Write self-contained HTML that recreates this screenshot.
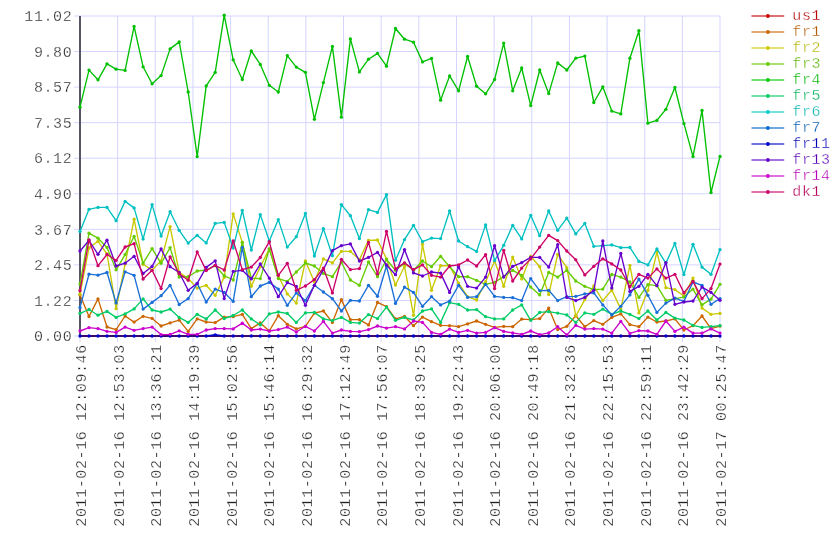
<!DOCTYPE html><html><head><meta charset="utf-8"><style>html,body{margin:0;padding:0;background:#fff;}svg{display:block;}text{font-family:"Liberation Mono",monospace;font-size:15px;letter-spacing:0.6px;stroke:#fff;stroke-width:0.3px;}</style></head><body>
<svg width="840" height="560" viewBox="0 0 840 560">
<rect width="840" height="560" fill="#fff"/>
<path d="M74 336.00H720M74 300.44H720M74 264.89H720M74 229.33H720M74 193.78H720M74 158.22H720M74 122.67H720M74 87.11H720M74 51.56H720M74 16.00H720M80.00 16V342M117.65 16V342M155.29 16V342M192.94 16V342M230.59 16V342M268.24 16V342M305.88 16V342M343.53 16V342M381.18 16V342M418.82 16V342M456.47 16V342M494.12 16V342M531.76 16V342M569.41 16V342M607.06 16V342M644.71 16V342M682.35 16V342M720.00 16V342" stroke="#d4d4ff" stroke-width="1" fill="none"/>
<path d="M80 16V336" stroke="#555566" stroke-width="2" fill="none" shape-rendering="crispEdges"/>
<text x="72.3" y="341.2" text-anchor="end" fill="#222">0.00</text>
<text x="72.3" y="305.6" text-anchor="end" fill="#222">1.22</text>
<text x="72.3" y="270.1" text-anchor="end" fill="#222">2.45</text>
<text x="72.3" y="234.5" text-anchor="end" fill="#222">3.67</text>
<text x="72.3" y="199.0" text-anchor="end" fill="#222">4.90</text>
<text x="72.3" y="163.4" text-anchor="end" fill="#222">6.12</text>
<text x="72.3" y="127.9" text-anchor="end" fill="#222">7.35</text>
<text x="72.3" y="92.3" text-anchor="end" fill="#222">8.57</text>
<text x="72.3" y="56.8" text-anchor="end" fill="#222">9.80</text>
<text x="72.3" y="21.2" text-anchor="end" fill="#222">11.02</text>
<text transform="translate(86.0 344.2) rotate(-90)" text-anchor="end" fill="#222">2011-02-16 12:09:46</text>
<text transform="translate(123.6 344.2) rotate(-90)" text-anchor="end" fill="#222">2011-02-16 12:53:03</text>
<text transform="translate(161.3 344.2) rotate(-90)" text-anchor="end" fill="#222">2011-02-16 13:36:21</text>
<text transform="translate(198.9 344.2) rotate(-90)" text-anchor="end" fill="#222">2011-02-16 14:19:39</text>
<text transform="translate(236.6 344.2) rotate(-90)" text-anchor="end" fill="#222">2011-02-16 15:02:56</text>
<text transform="translate(274.2 344.2) rotate(-90)" text-anchor="end" fill="#222">2011-02-16 15:46:14</text>
<text transform="translate(311.9 344.2) rotate(-90)" text-anchor="end" fill="#222">2011-02-16 16:29:32</text>
<text transform="translate(349.5 344.2) rotate(-90)" text-anchor="end" fill="#222">2011-02-16 17:12:49</text>
<text transform="translate(387.2 344.2) rotate(-90)" text-anchor="end" fill="#222">2011-02-16 17:56:07</text>
<text transform="translate(424.8 344.2) rotate(-90)" text-anchor="end" fill="#222">2011-02-16 18:39:25</text>
<text transform="translate(462.5 344.2) rotate(-90)" text-anchor="end" fill="#222">2011-02-16 19:22:43</text>
<text transform="translate(500.1 344.2) rotate(-90)" text-anchor="end" fill="#222">2011-02-16 20:06:00</text>
<text transform="translate(537.8 344.2) rotate(-90)" text-anchor="end" fill="#222">2011-02-16 20:49:18</text>
<text transform="translate(575.4 344.2) rotate(-90)" text-anchor="end" fill="#222">2011-02-16 21:32:36</text>
<text transform="translate(613.1 344.2) rotate(-90)" text-anchor="end" fill="#222">2011-02-16 22:15:53</text>
<text transform="translate(650.7 344.2) rotate(-90)" text-anchor="end" fill="#222">2011-02-16 22:59:11</text>
<text transform="translate(688.4 344.2) rotate(-90)" text-anchor="end" fill="#222">2011-02-16 23:42:29</text>
<text transform="translate(726.0 344.2) rotate(-90)" text-anchor="end" fill="#222">2011-02-17 00:25:47</text>
<polyline points="80.0,336.0 89.0,336.0 98.0,336.0 107.0,336.0 116.1,336.0 125.1,336.0 134.1,336.0 143.1,336.0 152.1,336.0 161.1,336.0 170.1,336.0 179.2,336.0 188.2,336.0 197.2,336.0 206.2,336.0 215.2,336.0 224.2,336.0 233.2,336.0 242.3,336.0 251.3,336.0 260.3,336.0 269.3,336.0 278.3,336.0 287.3,336.0 296.3,336.0 305.4,336.0 314.4,336.0 323.4,336.0 332.4,336.0 341.4,336.0 350.4,336.0 359.4,336.0 368.5,336.0 377.5,336.0 386.5,336.0 395.5,336.0 404.5,336.0 413.5,336.0 422.5,336.0 431.5,336.0 440.6,336.0 449.6,336.0 458.6,336.0 467.6,336.0 476.6,336.0 485.6,336.0 494.6,336.0 503.7,336.0 512.7,336.0 521.7,336.0 530.7,336.0 539.7,336.0 548.7,336.0 557.7,336.0 566.8,336.0 575.8,336.0 584.8,336.0 593.8,336.0 602.8,336.0 611.8,336.0 620.8,336.0 629.9,336.0 638.9,336.0 647.9,336.0 656.9,336.0 665.9,336.0 674.9,336.0 683.9,336.0 693.0,336.0 702.0,336.0 711.0,336.0 720.0,336.0" fill="none" stroke="#cc0000" stroke-width="1.5"/>
<polyline points="80.0,295.0 89.0,316.5 98.0,298.9 107.0,327.0 116.1,329.6 125.1,316.0 134.1,322.1 143.1,316.3 152.1,318.4 161.1,326.0 170.1,322.9 179.2,320.2 188.2,331.4 197.2,318.9 206.2,322.0 215.2,322.6 224.2,317.1 233.2,316.7 242.3,314.3 251.3,328.6 260.3,322.9 269.3,331.0 278.3,315.7 287.3,324.3 296.3,328.9 305.4,326.3 314.4,313.1 323.4,311.0 332.4,322.4 341.4,299.6 350.4,319.6 359.4,319.6 368.5,324.9 377.5,302.4 386.5,306.7 395.5,318.9 404.5,316.3 413.5,325.7 422.5,317.1 431.5,321.7 440.6,325.3 449.6,325.7 458.6,326.7 467.6,323.9 476.6,321.0 485.6,324.3 494.6,327.4 503.7,326.3 512.7,326.7 521.7,319.1 530.7,319.6 539.7,318.6 548.7,308.1 557.7,329.6 566.8,326.3 575.8,315.7 584.8,326.7 593.8,320.6 602.8,324.3 611.8,317.4 620.8,313.9 629.9,324.6 638.9,326.7 647.9,317.1 656.9,322.0 665.9,321.0 674.9,318.9 683.9,330.0 693.0,325.7 702.0,316.0 711.0,328.6 720.0,326.0" fill="none" stroke="#cc6600" stroke-width="1.35" stroke-linejoin="round"/>
<g fill="#cc6600"><circle cx="80.0" cy="295.0" r="1.65"/><circle cx="89.0" cy="316.5" r="1.65"/><circle cx="98.0" cy="298.9" r="1.65"/><circle cx="107.0" cy="327.0" r="1.65"/><circle cx="116.1" cy="329.6" r="1.65"/><circle cx="125.1" cy="316.0" r="1.65"/><circle cx="134.1" cy="322.1" r="1.65"/><circle cx="143.1" cy="316.3" r="1.65"/><circle cx="152.1" cy="318.4" r="1.65"/><circle cx="161.1" cy="326.0" r="1.65"/><circle cx="170.1" cy="322.9" r="1.65"/><circle cx="179.2" cy="320.2" r="1.65"/><circle cx="188.2" cy="331.4" r="1.65"/><circle cx="197.2" cy="318.9" r="1.65"/><circle cx="206.2" cy="322.0" r="1.65"/><circle cx="215.2" cy="322.6" r="1.65"/><circle cx="224.2" cy="317.1" r="1.65"/><circle cx="233.2" cy="316.7" r="1.65"/><circle cx="242.3" cy="314.3" r="1.65"/><circle cx="251.3" cy="328.6" r="1.65"/><circle cx="260.3" cy="322.9" r="1.65"/><circle cx="269.3" cy="331.0" r="1.65"/><circle cx="278.3" cy="315.7" r="1.65"/><circle cx="287.3" cy="324.3" r="1.65"/><circle cx="296.3" cy="328.9" r="1.65"/><circle cx="305.4" cy="326.3" r="1.65"/><circle cx="314.4" cy="313.1" r="1.65"/><circle cx="323.4" cy="311.0" r="1.65"/><circle cx="332.4" cy="322.4" r="1.65"/><circle cx="341.4" cy="299.6" r="1.65"/><circle cx="350.4" cy="319.6" r="1.65"/><circle cx="359.4" cy="319.6" r="1.65"/><circle cx="368.5" cy="324.9" r="1.65"/><circle cx="377.5" cy="302.4" r="1.65"/><circle cx="386.5" cy="306.7" r="1.65"/><circle cx="395.5" cy="318.9" r="1.65"/><circle cx="404.5" cy="316.3" r="1.65"/><circle cx="413.5" cy="325.7" r="1.65"/><circle cx="422.5" cy="317.1" r="1.65"/><circle cx="431.5" cy="321.7" r="1.65"/><circle cx="440.6" cy="325.3" r="1.65"/><circle cx="449.6" cy="325.7" r="1.65"/><circle cx="458.6" cy="326.7" r="1.65"/><circle cx="467.6" cy="323.9" r="1.65"/><circle cx="476.6" cy="321.0" r="1.65"/><circle cx="485.6" cy="324.3" r="1.65"/><circle cx="494.6" cy="327.4" r="1.65"/><circle cx="503.7" cy="326.3" r="1.65"/><circle cx="512.7" cy="326.7" r="1.65"/><circle cx="521.7" cy="319.1" r="1.65"/><circle cx="530.7" cy="319.6" r="1.65"/><circle cx="539.7" cy="318.6" r="1.65"/><circle cx="548.7" cy="308.1" r="1.65"/><circle cx="557.7" cy="329.6" r="1.65"/><circle cx="566.8" cy="326.3" r="1.65"/><circle cx="575.8" cy="315.7" r="1.65"/><circle cx="584.8" cy="326.7" r="1.65"/><circle cx="593.8" cy="320.6" r="1.65"/><circle cx="602.8" cy="324.3" r="1.65"/><circle cx="611.8" cy="317.4" r="1.65"/><circle cx="620.8" cy="313.9" r="1.65"/><circle cx="629.9" cy="324.6" r="1.65"/><circle cx="638.9" cy="326.7" r="1.65"/><circle cx="647.9" cy="317.1" r="1.65"/><circle cx="656.9" cy="322.0" r="1.65"/><circle cx="665.9" cy="321.0" r="1.65"/><circle cx="674.9" cy="318.9" r="1.65"/><circle cx="683.9" cy="330.0" r="1.65"/><circle cx="693.0" cy="325.7" r="1.65"/><circle cx="702.0" cy="316.0" r="1.65"/><circle cx="711.0" cy="328.6" r="1.65"/><circle cx="720.0" cy="326.0" r="1.65"/></g>
<polyline points="80.0,294.2 89.0,247.9 98.0,241.3 107.0,254.0 116.1,308.7 125.1,264.0 134.1,219.2 143.1,264.3 152.1,270.1 161.1,260.8 170.1,226.6 179.2,272.4 188.2,278.5 197.2,288.1 206.2,285.3 215.2,295.3 224.2,277.4 233.2,213.9 242.3,242.4 251.3,286.3 260.3,266.7 269.3,249.0 278.3,276.0 287.3,293.9 296.3,303.1 305.4,261.0 314.4,282.0 323.4,258.9 332.4,262.9 341.4,251.4 350.4,251.4 359.4,259.6 368.5,240.3 377.5,240.0 386.5,258.9 395.5,285.0 404.5,266.3 413.5,315.3 422.5,244.3 431.5,290.3 440.6,265.7 449.6,265.7 458.6,283.1 467.6,296.7 476.6,300.0 485.6,281.7 494.6,261.0 503.7,286.3 512.7,257.1 521.7,278.9 530.7,256.3 539.7,266.7 548.7,294.6 557.7,254.3 566.8,267.7 575.8,316.0 584.8,299.6 593.8,286.0 602.8,300.6 611.8,290.0 620.8,309.1 629.9,265.3 638.9,312.9 647.9,290.3 656.9,252.0 665.9,287.7 674.9,289.6 683.9,296.0 693.0,278.1 702.0,308.1 711.0,314.3 720.0,313.4" fill="none" stroke="#c8c800" stroke-width="1.35" stroke-linejoin="round"/>
<g fill="#c8c800"><circle cx="80.0" cy="294.2" r="1.65"/><circle cx="89.0" cy="247.9" r="1.65"/><circle cx="98.0" cy="241.3" r="1.65"/><circle cx="107.0" cy="254.0" r="1.65"/><circle cx="116.1" cy="308.7" r="1.65"/><circle cx="125.1" cy="264.0" r="1.65"/><circle cx="134.1" cy="219.2" r="1.65"/><circle cx="143.1" cy="264.3" r="1.65"/><circle cx="152.1" cy="270.1" r="1.65"/><circle cx="161.1" cy="260.8" r="1.65"/><circle cx="170.1" cy="226.6" r="1.65"/><circle cx="179.2" cy="272.4" r="1.65"/><circle cx="188.2" cy="278.5" r="1.65"/><circle cx="197.2" cy="288.1" r="1.65"/><circle cx="206.2" cy="285.3" r="1.65"/><circle cx="215.2" cy="295.3" r="1.65"/><circle cx="224.2" cy="277.4" r="1.65"/><circle cx="233.2" cy="213.9" r="1.65"/><circle cx="242.3" cy="242.4" r="1.65"/><circle cx="251.3" cy="286.3" r="1.65"/><circle cx="260.3" cy="266.7" r="1.65"/><circle cx="269.3" cy="249.0" r="1.65"/><circle cx="278.3" cy="276.0" r="1.65"/><circle cx="287.3" cy="293.9" r="1.65"/><circle cx="296.3" cy="303.1" r="1.65"/><circle cx="305.4" cy="261.0" r="1.65"/><circle cx="314.4" cy="282.0" r="1.65"/><circle cx="323.4" cy="258.9" r="1.65"/><circle cx="332.4" cy="262.9" r="1.65"/><circle cx="341.4" cy="251.4" r="1.65"/><circle cx="350.4" cy="251.4" r="1.65"/><circle cx="359.4" cy="259.6" r="1.65"/><circle cx="368.5" cy="240.3" r="1.65"/><circle cx="377.5" cy="240.0" r="1.65"/><circle cx="386.5" cy="258.9" r="1.65"/><circle cx="395.5" cy="285.0" r="1.65"/><circle cx="404.5" cy="266.3" r="1.65"/><circle cx="413.5" cy="315.3" r="1.65"/><circle cx="422.5" cy="244.3" r="1.65"/><circle cx="431.5" cy="290.3" r="1.65"/><circle cx="440.6" cy="265.7" r="1.65"/><circle cx="449.6" cy="265.7" r="1.65"/><circle cx="458.6" cy="283.1" r="1.65"/><circle cx="467.6" cy="296.7" r="1.65"/><circle cx="476.6" cy="300.0" r="1.65"/><circle cx="485.6" cy="281.7" r="1.65"/><circle cx="494.6" cy="261.0" r="1.65"/><circle cx="503.7" cy="286.3" r="1.65"/><circle cx="512.7" cy="257.1" r="1.65"/><circle cx="521.7" cy="278.9" r="1.65"/><circle cx="530.7" cy="256.3" r="1.65"/><circle cx="539.7" cy="266.7" r="1.65"/><circle cx="548.7" cy="294.6" r="1.65"/><circle cx="557.7" cy="254.3" r="1.65"/><circle cx="566.8" cy="267.7" r="1.65"/><circle cx="575.8" cy="316.0" r="1.65"/><circle cx="584.8" cy="299.6" r="1.65"/><circle cx="593.8" cy="286.0" r="1.65"/><circle cx="602.8" cy="300.6" r="1.65"/><circle cx="611.8" cy="290.0" r="1.65"/><circle cx="620.8" cy="309.1" r="1.65"/><circle cx="629.9" cy="265.3" r="1.65"/><circle cx="638.9" cy="312.9" r="1.65"/><circle cx="647.9" cy="290.3" r="1.65"/><circle cx="656.9" cy="252.0" r="1.65"/><circle cx="665.9" cy="287.7" r="1.65"/><circle cx="674.9" cy="289.6" r="1.65"/><circle cx="683.9" cy="296.0" r="1.65"/><circle cx="693.0" cy="278.1" r="1.65"/><circle cx="702.0" cy="308.1" r="1.65"/><circle cx="711.0" cy="314.3" r="1.65"/><circle cx="720.0" cy="313.4" r="1.65"/></g>
<polyline points="80.0,284.0 89.0,233.2 98.0,238.2 107.0,247.5 116.1,269.8 125.1,254.6 134.1,236.3 143.1,263.1 152.1,248.6 161.1,263.3 170.1,247.6 179.2,277.0 188.2,276.7 197.2,271.0 206.2,270.0 215.2,265.7 224.2,275.7 233.2,280.0 242.3,242.4 251.3,278.1 260.3,278.6 269.3,248.9 278.3,278.6 287.3,281.4 296.3,272.0 305.4,263.0 314.4,266.0 323.4,273.4 332.4,276.7 341.4,262.2 350.4,280.0 359.4,285.3 368.5,262.0 377.5,276.7 386.5,259.5 395.5,270.3 404.5,263.1 413.5,270.3 422.5,261.0 431.5,266.7 440.6,256.3 449.6,266.7 458.6,276.7 467.6,276.7 476.6,280.3 485.6,284.3 494.6,282.4 503.7,276.5 512.7,270.3 521.7,275.3 530.7,287.1 539.7,294.9 548.7,272.4 557.7,277.1 566.8,270.3 575.8,281.0 584.8,286.3 593.8,289.6 602.8,289.1 611.8,274.4 620.8,277.1 629.9,282.0 638.9,297.4 647.9,284.6 656.9,285.7 665.9,300.3 674.9,298.6 683.9,297.1 693.0,289.1 702.0,304.9 711.0,299.1 720.0,284.3" fill="none" stroke="#66cc00" stroke-width="1.35" stroke-linejoin="round"/>
<g fill="#66cc00"><circle cx="80.0" cy="284.0" r="1.65"/><circle cx="89.0" cy="233.2" r="1.65"/><circle cx="98.0" cy="238.2" r="1.65"/><circle cx="107.0" cy="247.5" r="1.65"/><circle cx="116.1" cy="269.8" r="1.65"/><circle cx="125.1" cy="254.6" r="1.65"/><circle cx="134.1" cy="236.3" r="1.65"/><circle cx="143.1" cy="263.1" r="1.65"/><circle cx="152.1" cy="248.6" r="1.65"/><circle cx="161.1" cy="263.3" r="1.65"/><circle cx="170.1" cy="247.6" r="1.65"/><circle cx="179.2" cy="277.0" r="1.65"/><circle cx="188.2" cy="276.7" r="1.65"/><circle cx="197.2" cy="271.0" r="1.65"/><circle cx="206.2" cy="270.0" r="1.65"/><circle cx="215.2" cy="265.7" r="1.65"/><circle cx="224.2" cy="275.7" r="1.65"/><circle cx="233.2" cy="280.0" r="1.65"/><circle cx="242.3" cy="242.4" r="1.65"/><circle cx="251.3" cy="278.1" r="1.65"/><circle cx="260.3" cy="278.6" r="1.65"/><circle cx="269.3" cy="248.9" r="1.65"/><circle cx="278.3" cy="278.6" r="1.65"/><circle cx="287.3" cy="281.4" r="1.65"/><circle cx="296.3" cy="272.0" r="1.65"/><circle cx="305.4" cy="263.0" r="1.65"/><circle cx="314.4" cy="266.0" r="1.65"/><circle cx="323.4" cy="273.4" r="1.65"/><circle cx="332.4" cy="276.7" r="1.65"/><circle cx="341.4" cy="262.2" r="1.65"/><circle cx="350.4" cy="280.0" r="1.65"/><circle cx="359.4" cy="285.3" r="1.65"/><circle cx="368.5" cy="262.0" r="1.65"/><circle cx="377.5" cy="276.7" r="1.65"/><circle cx="386.5" cy="259.5" r="1.65"/><circle cx="395.5" cy="270.3" r="1.65"/><circle cx="404.5" cy="263.1" r="1.65"/><circle cx="413.5" cy="270.3" r="1.65"/><circle cx="422.5" cy="261.0" r="1.65"/><circle cx="431.5" cy="266.7" r="1.65"/><circle cx="440.6" cy="256.3" r="1.65"/><circle cx="449.6" cy="266.7" r="1.65"/><circle cx="458.6" cy="276.7" r="1.65"/><circle cx="467.6" cy="276.7" r="1.65"/><circle cx="476.6" cy="280.3" r="1.65"/><circle cx="485.6" cy="284.3" r="1.65"/><circle cx="494.6" cy="282.4" r="1.65"/><circle cx="503.7" cy="276.5" r="1.65"/><circle cx="512.7" cy="270.3" r="1.65"/><circle cx="521.7" cy="275.3" r="1.65"/><circle cx="530.7" cy="287.1" r="1.65"/><circle cx="539.7" cy="294.9" r="1.65"/><circle cx="548.7" cy="272.4" r="1.65"/><circle cx="557.7" cy="277.1" r="1.65"/><circle cx="566.8" cy="270.3" r="1.65"/><circle cx="575.8" cy="281.0" r="1.65"/><circle cx="584.8" cy="286.3" r="1.65"/><circle cx="593.8" cy="289.6" r="1.65"/><circle cx="602.8" cy="289.1" r="1.65"/><circle cx="611.8" cy="274.4" r="1.65"/><circle cx="620.8" cy="277.1" r="1.65"/><circle cx="629.9" cy="282.0" r="1.65"/><circle cx="638.9" cy="297.4" r="1.65"/><circle cx="647.9" cy="284.6" r="1.65"/><circle cx="656.9" cy="285.7" r="1.65"/><circle cx="665.9" cy="300.3" r="1.65"/><circle cx="674.9" cy="298.6" r="1.65"/><circle cx="683.9" cy="297.1" r="1.65"/><circle cx="693.0" cy="289.1" r="1.65"/><circle cx="702.0" cy="304.9" r="1.65"/><circle cx="711.0" cy="299.1" r="1.65"/><circle cx="720.0" cy="284.3" r="1.65"/></g>
<polyline points="80.0,107.2 89.0,70.1 98.0,79.8 107.0,63.8 116.1,69.2 125.1,70.4 134.1,26.4 143.1,66.8 152.1,83.8 161.1,75.6 170.1,48.9 179.2,41.9 188.2,92.0 197.2,156.6 206.2,85.9 215.2,72.3 224.2,15.2 233.2,59.8 242.3,79.5 251.3,51.0 260.3,64.4 269.3,85.3 278.3,92.0 287.3,55.6 296.3,67.1 305.4,72.3 314.4,119.3 323.4,82.6 332.4,46.4 341.4,117.2 350.4,38.9 359.4,71.9 368.5,59.2 377.5,53.4 386.5,66.2 395.5,28.5 404.5,39.2 413.5,42.2 422.5,61.9 431.5,58.3 440.6,100.2 449.6,75.9 458.6,90.8 467.6,56.5 476.6,86.2 485.6,93.8 494.6,79.5 503.7,43.1 512.7,90.8 521.7,68.0 530.7,105.6 539.7,70.0 548.7,93.6 557.7,62.9 566.8,70.0 575.8,58.2 584.8,56.1 593.8,102.5 602.8,86.8 611.8,111.1 620.8,113.9 629.9,58.2 638.9,30.7 647.9,123.2 656.9,120.4 665.9,109.3 674.9,87.5 683.9,123.4 693.0,156.6 702.0,110.4 711.0,192.5 720.0,156.4" fill="none" stroke="#00c000" stroke-width="1.35" stroke-linejoin="round"/>
<g fill="#00c000"><circle cx="80.0" cy="107.2" r="1.65"/><circle cx="89.0" cy="70.1" r="1.65"/><circle cx="98.0" cy="79.8" r="1.65"/><circle cx="107.0" cy="63.8" r="1.65"/><circle cx="116.1" cy="69.2" r="1.65"/><circle cx="125.1" cy="70.4" r="1.65"/><circle cx="134.1" cy="26.4" r="1.65"/><circle cx="143.1" cy="66.8" r="1.65"/><circle cx="152.1" cy="83.8" r="1.65"/><circle cx="161.1" cy="75.6" r="1.65"/><circle cx="170.1" cy="48.9" r="1.65"/><circle cx="179.2" cy="41.9" r="1.65"/><circle cx="188.2" cy="92.0" r="1.65"/><circle cx="197.2" cy="156.6" r="1.65"/><circle cx="206.2" cy="85.9" r="1.65"/><circle cx="215.2" cy="72.3" r="1.65"/><circle cx="224.2" cy="15.2" r="1.65"/><circle cx="233.2" cy="59.8" r="1.65"/><circle cx="242.3" cy="79.5" r="1.65"/><circle cx="251.3" cy="51.0" r="1.65"/><circle cx="260.3" cy="64.4" r="1.65"/><circle cx="269.3" cy="85.3" r="1.65"/><circle cx="278.3" cy="92.0" r="1.65"/><circle cx="287.3" cy="55.6" r="1.65"/><circle cx="296.3" cy="67.1" r="1.65"/><circle cx="305.4" cy="72.3" r="1.65"/><circle cx="314.4" cy="119.3" r="1.65"/><circle cx="323.4" cy="82.6" r="1.65"/><circle cx="332.4" cy="46.4" r="1.65"/><circle cx="341.4" cy="117.2" r="1.65"/><circle cx="350.4" cy="38.9" r="1.65"/><circle cx="359.4" cy="71.9" r="1.65"/><circle cx="368.5" cy="59.2" r="1.65"/><circle cx="377.5" cy="53.4" r="1.65"/><circle cx="386.5" cy="66.2" r="1.65"/><circle cx="395.5" cy="28.5" r="1.65"/><circle cx="404.5" cy="39.2" r="1.65"/><circle cx="413.5" cy="42.2" r="1.65"/><circle cx="422.5" cy="61.9" r="1.65"/><circle cx="431.5" cy="58.3" r="1.65"/><circle cx="440.6" cy="100.2" r="1.65"/><circle cx="449.6" cy="75.9" r="1.65"/><circle cx="458.6" cy="90.8" r="1.65"/><circle cx="467.6" cy="56.5" r="1.65"/><circle cx="476.6" cy="86.2" r="1.65"/><circle cx="485.6" cy="93.8" r="1.65"/><circle cx="494.6" cy="79.5" r="1.65"/><circle cx="503.7" cy="43.1" r="1.65"/><circle cx="512.7" cy="90.8" r="1.65"/><circle cx="521.7" cy="68.0" r="1.65"/><circle cx="530.7" cy="105.6" r="1.65"/><circle cx="539.7" cy="70.0" r="1.65"/><circle cx="548.7" cy="93.6" r="1.65"/><circle cx="557.7" cy="62.9" r="1.65"/><circle cx="566.8" cy="70.0" r="1.65"/><circle cx="575.8" cy="58.2" r="1.65"/><circle cx="584.8" cy="56.1" r="1.65"/><circle cx="593.8" cy="102.5" r="1.65"/><circle cx="602.8" cy="86.8" r="1.65"/><circle cx="611.8" cy="111.1" r="1.65"/><circle cx="620.8" cy="113.9" r="1.65"/><circle cx="629.9" cy="58.2" r="1.65"/><circle cx="638.9" cy="30.7" r="1.65"/><circle cx="647.9" cy="123.2" r="1.65"/><circle cx="656.9" cy="120.4" r="1.65"/><circle cx="665.9" cy="109.3" r="1.65"/><circle cx="674.9" cy="87.5" r="1.65"/><circle cx="683.9" cy="123.4" r="1.65"/><circle cx="693.0" cy="156.6" r="1.65"/><circle cx="702.0" cy="110.4" r="1.65"/><circle cx="711.0" cy="192.5" r="1.65"/><circle cx="720.0" cy="156.4" r="1.65"/></g>
<polyline points="80.0,313.4 89.0,309.5 98.0,315.2 107.0,311.4 116.1,317.4 125.1,313.9 134.1,308.9 143.1,298.9 152.1,310.0 161.1,312.0 170.1,309.1 179.2,317.4 188.2,322.4 197.2,314.3 206.2,318.9 215.2,310.0 224.2,318.6 233.2,315.5 242.3,310.0 251.3,318.9 260.3,324.9 269.3,313.9 278.3,312.0 287.3,313.4 296.3,322.4 305.4,312.9 314.4,312.4 323.4,318.9 332.4,320.6 341.4,317.4 350.4,322.4 359.4,323.1 368.5,314.6 377.5,318.6 386.5,307.1 395.5,320.3 404.5,317.4 413.5,320.0 422.5,311.0 431.5,308.9 440.6,322.4 449.6,302.7 458.6,304.3 467.6,310.0 476.6,309.6 485.6,316.7 494.6,318.9 503.7,318.9 512.7,310.0 521.7,304.9 530.7,320.3 539.7,312.4 548.7,311.7 557.7,313.1 566.8,314.9 575.8,322.4 584.8,312.9 593.8,314.3 602.8,309.1 611.8,314.3 620.8,311.0 629.9,314.3 638.9,318.6 647.9,311.0 656.9,320.0 665.9,312.4 674.9,318.1 683.9,320.0 693.0,325.3 702.0,327.4 711.0,326.7 720.0,325.7" fill="none" stroke="#00cc66" stroke-width="1.35" stroke-linejoin="round"/>
<g fill="#00cc66"><circle cx="80.0" cy="313.4" r="1.65"/><circle cx="89.0" cy="309.5" r="1.65"/><circle cx="98.0" cy="315.2" r="1.65"/><circle cx="107.0" cy="311.4" r="1.65"/><circle cx="116.1" cy="317.4" r="1.65"/><circle cx="125.1" cy="313.9" r="1.65"/><circle cx="134.1" cy="308.9" r="1.65"/><circle cx="143.1" cy="298.9" r="1.65"/><circle cx="152.1" cy="310.0" r="1.65"/><circle cx="161.1" cy="312.0" r="1.65"/><circle cx="170.1" cy="309.1" r="1.65"/><circle cx="179.2" cy="317.4" r="1.65"/><circle cx="188.2" cy="322.4" r="1.65"/><circle cx="197.2" cy="314.3" r="1.65"/><circle cx="206.2" cy="318.9" r="1.65"/><circle cx="215.2" cy="310.0" r="1.65"/><circle cx="224.2" cy="318.6" r="1.65"/><circle cx="233.2" cy="315.5" r="1.65"/><circle cx="242.3" cy="310.0" r="1.65"/><circle cx="251.3" cy="318.9" r="1.65"/><circle cx="260.3" cy="324.9" r="1.65"/><circle cx="269.3" cy="313.9" r="1.65"/><circle cx="278.3" cy="312.0" r="1.65"/><circle cx="287.3" cy="313.4" r="1.65"/><circle cx="296.3" cy="322.4" r="1.65"/><circle cx="305.4" cy="312.9" r="1.65"/><circle cx="314.4" cy="312.4" r="1.65"/><circle cx="323.4" cy="318.9" r="1.65"/><circle cx="332.4" cy="320.6" r="1.65"/><circle cx="341.4" cy="317.4" r="1.65"/><circle cx="350.4" cy="322.4" r="1.65"/><circle cx="359.4" cy="323.1" r="1.65"/><circle cx="368.5" cy="314.6" r="1.65"/><circle cx="377.5" cy="318.6" r="1.65"/><circle cx="386.5" cy="307.1" r="1.65"/><circle cx="395.5" cy="320.3" r="1.65"/><circle cx="404.5" cy="317.4" r="1.65"/><circle cx="413.5" cy="320.0" r="1.65"/><circle cx="422.5" cy="311.0" r="1.65"/><circle cx="431.5" cy="308.9" r="1.65"/><circle cx="440.6" cy="322.4" r="1.65"/><circle cx="449.6" cy="302.7" r="1.65"/><circle cx="458.6" cy="304.3" r="1.65"/><circle cx="467.6" cy="310.0" r="1.65"/><circle cx="476.6" cy="309.6" r="1.65"/><circle cx="485.6" cy="316.7" r="1.65"/><circle cx="494.6" cy="318.9" r="1.65"/><circle cx="503.7" cy="318.9" r="1.65"/><circle cx="512.7" cy="310.0" r="1.65"/><circle cx="521.7" cy="304.9" r="1.65"/><circle cx="530.7" cy="320.3" r="1.65"/><circle cx="539.7" cy="312.4" r="1.65"/><circle cx="548.7" cy="311.7" r="1.65"/><circle cx="557.7" cy="313.1" r="1.65"/><circle cx="566.8" cy="314.9" r="1.65"/><circle cx="575.8" cy="322.4" r="1.65"/><circle cx="584.8" cy="312.9" r="1.65"/><circle cx="593.8" cy="314.3" r="1.65"/><circle cx="602.8" cy="309.1" r="1.65"/><circle cx="611.8" cy="314.3" r="1.65"/><circle cx="620.8" cy="311.0" r="1.65"/><circle cx="629.9" cy="314.3" r="1.65"/><circle cx="638.9" cy="318.6" r="1.65"/><circle cx="647.9" cy="311.0" r="1.65"/><circle cx="656.9" cy="320.0" r="1.65"/><circle cx="665.9" cy="312.4" r="1.65"/><circle cx="674.9" cy="318.1" r="1.65"/><circle cx="683.9" cy="320.0" r="1.65"/><circle cx="693.0" cy="325.3" r="1.65"/><circle cx="702.0" cy="327.4" r="1.65"/><circle cx="711.0" cy="326.7" r="1.65"/><circle cx="720.0" cy="325.7" r="1.65"/></g>
<polyline points="80.0,231.4 89.0,209.3 98.0,207.4 107.0,207.4 116.1,220.7 125.1,201.4 134.1,207.9 143.1,239.1 152.1,204.6 161.1,236.0 170.1,211.7 179.2,230.3 188.2,243.1 197.2,235.3 206.2,242.9 215.2,223.4 224.2,222.4 233.2,248.1 242.3,210.3 251.3,250.0 260.3,214.6 269.3,241.0 278.3,219.6 287.3,247.1 296.3,236.7 305.4,213.4 314.4,256.0 323.4,228.6 332.4,255.7 341.4,204.6 350.4,215.7 359.4,238.6 368.5,209.6 377.5,212.4 386.5,194.6 395.5,260.3 404.5,239.6 413.5,225.3 422.5,241.7 431.5,238.1 440.6,238.6 449.6,211.0 458.6,241.0 467.6,246.7 476.6,251.4 485.6,224.9 494.6,260.6 503.7,245.3 512.7,225.3 521.7,238.9 530.7,215.3 539.7,235.7 548.7,211.0 557.7,230.3 566.8,218.1 575.8,233.9 584.8,223.4 593.8,246.3 602.8,245.7 611.8,244.9 620.8,247.7 629.9,247.4 638.9,261.4 647.9,264.9 656.9,248.9 665.9,263.1 674.9,243.4 683.9,274.6 693.0,244.3 702.0,267.1 711.0,274.3 720.0,249.6" fill="none" stroke="#00c0c0" stroke-width="1.35" stroke-linejoin="round"/>
<g fill="#00c0c0"><circle cx="80.0" cy="231.4" r="1.65"/><circle cx="89.0" cy="209.3" r="1.65"/><circle cx="98.0" cy="207.4" r="1.65"/><circle cx="107.0" cy="207.4" r="1.65"/><circle cx="116.1" cy="220.7" r="1.65"/><circle cx="125.1" cy="201.4" r="1.65"/><circle cx="134.1" cy="207.9" r="1.65"/><circle cx="143.1" cy="239.1" r="1.65"/><circle cx="152.1" cy="204.6" r="1.65"/><circle cx="161.1" cy="236.0" r="1.65"/><circle cx="170.1" cy="211.7" r="1.65"/><circle cx="179.2" cy="230.3" r="1.65"/><circle cx="188.2" cy="243.1" r="1.65"/><circle cx="197.2" cy="235.3" r="1.65"/><circle cx="206.2" cy="242.9" r="1.65"/><circle cx="215.2" cy="223.4" r="1.65"/><circle cx="224.2" cy="222.4" r="1.65"/><circle cx="233.2" cy="248.1" r="1.65"/><circle cx="242.3" cy="210.3" r="1.65"/><circle cx="251.3" cy="250.0" r="1.65"/><circle cx="260.3" cy="214.6" r="1.65"/><circle cx="269.3" cy="241.0" r="1.65"/><circle cx="278.3" cy="219.6" r="1.65"/><circle cx="287.3" cy="247.1" r="1.65"/><circle cx="296.3" cy="236.7" r="1.65"/><circle cx="305.4" cy="213.4" r="1.65"/><circle cx="314.4" cy="256.0" r="1.65"/><circle cx="323.4" cy="228.6" r="1.65"/><circle cx="332.4" cy="255.7" r="1.65"/><circle cx="341.4" cy="204.6" r="1.65"/><circle cx="350.4" cy="215.7" r="1.65"/><circle cx="359.4" cy="238.6" r="1.65"/><circle cx="368.5" cy="209.6" r="1.65"/><circle cx="377.5" cy="212.4" r="1.65"/><circle cx="386.5" cy="194.6" r="1.65"/><circle cx="395.5" cy="260.3" r="1.65"/><circle cx="404.5" cy="239.6" r="1.65"/><circle cx="413.5" cy="225.3" r="1.65"/><circle cx="422.5" cy="241.7" r="1.65"/><circle cx="431.5" cy="238.1" r="1.65"/><circle cx="440.6" cy="238.6" r="1.65"/><circle cx="449.6" cy="211.0" r="1.65"/><circle cx="458.6" cy="241.0" r="1.65"/><circle cx="467.6" cy="246.7" r="1.65"/><circle cx="476.6" cy="251.4" r="1.65"/><circle cx="485.6" cy="224.9" r="1.65"/><circle cx="494.6" cy="260.6" r="1.65"/><circle cx="503.7" cy="245.3" r="1.65"/><circle cx="512.7" cy="225.3" r="1.65"/><circle cx="521.7" cy="238.9" r="1.65"/><circle cx="530.7" cy="215.3" r="1.65"/><circle cx="539.7" cy="235.7" r="1.65"/><circle cx="548.7" cy="211.0" r="1.65"/><circle cx="557.7" cy="230.3" r="1.65"/><circle cx="566.8" cy="218.1" r="1.65"/><circle cx="575.8" cy="233.9" r="1.65"/><circle cx="584.8" cy="223.4" r="1.65"/><circle cx="593.8" cy="246.3" r="1.65"/><circle cx="602.8" cy="245.7" r="1.65"/><circle cx="611.8" cy="244.9" r="1.65"/><circle cx="620.8" cy="247.7" r="1.65"/><circle cx="629.9" cy="247.4" r="1.65"/><circle cx="638.9" cy="261.4" r="1.65"/><circle cx="647.9" cy="264.9" r="1.65"/><circle cx="656.9" cy="248.9" r="1.65"/><circle cx="665.9" cy="263.1" r="1.65"/><circle cx="674.9" cy="243.4" r="1.65"/><circle cx="683.9" cy="274.6" r="1.65"/><circle cx="693.0" cy="244.3" r="1.65"/><circle cx="702.0" cy="267.1" r="1.65"/><circle cx="711.0" cy="274.3" r="1.65"/><circle cx="720.0" cy="249.6" r="1.65"/></g>
<polyline points="80.0,307.6 89.0,274.2 98.0,275.2 107.0,272.5 116.1,302.9 125.1,271.8 134.1,275.3 143.1,309.1 152.1,302.4 161.1,295.7 170.1,285.3 179.2,304.5 188.2,298.6 197.2,283.4 206.2,302.0 215.2,289.1 224.2,292.4 233.2,301.4 242.3,247.4 251.3,296.7 260.3,286.0 269.3,282.4 278.3,289.1 287.3,305.3 296.3,292.9 305.4,300.6 314.4,285.3 323.4,292.0 332.4,298.6 341.4,311.0 350.4,300.3 359.4,301.0 368.5,285.3 377.5,296.3 386.5,266.0 395.5,303.4 404.5,287.1 413.5,292.4 422.5,306.3 431.5,296.7 440.6,304.9 449.6,301.2 458.6,285.3 467.6,297.4 476.6,296.7 485.6,284.3 494.6,296.3 503.7,297.4 512.7,297.7 521.7,300.6 530.7,278.6 539.7,290.6 548.7,290.3 557.7,300.6 566.8,296.7 575.8,296.3 584.8,293.9 593.8,292.9 602.8,304.9 611.8,314.9 620.8,306.3 629.9,294.9 638.9,279.1 647.9,295.3 656.9,312.4 665.9,303.1 674.9,298.1 683.9,301.4 693.0,282.0 702.0,285.3 711.0,304.3 720.0,298.6" fill="none" stroke="#1a6fd6" stroke-width="1.35" stroke-linejoin="round"/>
<g fill="#1a6fd6"><circle cx="80.0" cy="307.6" r="1.65"/><circle cx="89.0" cy="274.2" r="1.65"/><circle cx="98.0" cy="275.2" r="1.65"/><circle cx="107.0" cy="272.5" r="1.65"/><circle cx="116.1" cy="302.9" r="1.65"/><circle cx="125.1" cy="271.8" r="1.65"/><circle cx="134.1" cy="275.3" r="1.65"/><circle cx="143.1" cy="309.1" r="1.65"/><circle cx="152.1" cy="302.4" r="1.65"/><circle cx="161.1" cy="295.7" r="1.65"/><circle cx="170.1" cy="285.3" r="1.65"/><circle cx="179.2" cy="304.5" r="1.65"/><circle cx="188.2" cy="298.6" r="1.65"/><circle cx="197.2" cy="283.4" r="1.65"/><circle cx="206.2" cy="302.0" r="1.65"/><circle cx="215.2" cy="289.1" r="1.65"/><circle cx="224.2" cy="292.4" r="1.65"/><circle cx="233.2" cy="301.4" r="1.65"/><circle cx="242.3" cy="247.4" r="1.65"/><circle cx="251.3" cy="296.7" r="1.65"/><circle cx="260.3" cy="286.0" r="1.65"/><circle cx="269.3" cy="282.4" r="1.65"/><circle cx="278.3" cy="289.1" r="1.65"/><circle cx="287.3" cy="305.3" r="1.65"/><circle cx="296.3" cy="292.9" r="1.65"/><circle cx="305.4" cy="300.6" r="1.65"/><circle cx="314.4" cy="285.3" r="1.65"/><circle cx="323.4" cy="292.0" r="1.65"/><circle cx="332.4" cy="298.6" r="1.65"/><circle cx="341.4" cy="311.0" r="1.65"/><circle cx="350.4" cy="300.3" r="1.65"/><circle cx="359.4" cy="301.0" r="1.65"/><circle cx="368.5" cy="285.3" r="1.65"/><circle cx="377.5" cy="296.3" r="1.65"/><circle cx="386.5" cy="266.0" r="1.65"/><circle cx="395.5" cy="303.4" r="1.65"/><circle cx="404.5" cy="287.1" r="1.65"/><circle cx="413.5" cy="292.4" r="1.65"/><circle cx="422.5" cy="306.3" r="1.65"/><circle cx="431.5" cy="296.7" r="1.65"/><circle cx="440.6" cy="304.9" r="1.65"/><circle cx="449.6" cy="301.2" r="1.65"/><circle cx="458.6" cy="285.3" r="1.65"/><circle cx="467.6" cy="297.4" r="1.65"/><circle cx="476.6" cy="296.7" r="1.65"/><circle cx="485.6" cy="284.3" r="1.65"/><circle cx="494.6" cy="296.3" r="1.65"/><circle cx="503.7" cy="297.4" r="1.65"/><circle cx="512.7" cy="297.7" r="1.65"/><circle cx="521.7" cy="300.6" r="1.65"/><circle cx="530.7" cy="278.6" r="1.65"/><circle cx="539.7" cy="290.6" r="1.65"/><circle cx="548.7" cy="290.3" r="1.65"/><circle cx="557.7" cy="300.6" r="1.65"/><circle cx="566.8" cy="296.7" r="1.65"/><circle cx="575.8" cy="296.3" r="1.65"/><circle cx="584.8" cy="293.9" r="1.65"/><circle cx="593.8" cy="292.9" r="1.65"/><circle cx="602.8" cy="304.9" r="1.65"/><circle cx="611.8" cy="314.9" r="1.65"/><circle cx="620.8" cy="306.3" r="1.65"/><circle cx="629.9" cy="294.9" r="1.65"/><circle cx="638.9" cy="279.1" r="1.65"/><circle cx="647.9" cy="295.3" r="1.65"/><circle cx="656.9" cy="312.4" r="1.65"/><circle cx="665.9" cy="303.1" r="1.65"/><circle cx="674.9" cy="298.1" r="1.65"/><circle cx="683.9" cy="301.4" r="1.65"/><circle cx="693.0" cy="282.0" r="1.65"/><circle cx="702.0" cy="285.3" r="1.65"/><circle cx="711.0" cy="304.3" r="1.65"/><circle cx="720.0" cy="298.6" r="1.65"/></g>
<path d="M80 336H720" stroke="#3c0872" stroke-width="2.2"/>
<polyline points="206.2,336.0 215.2,334.8 224.2,336.0" fill="none" stroke="#0000cc" stroke-width="1.5"/>
<g fill="#0000cc"><circle cx="80.0" cy="336.0" r="1.65"/><circle cx="89.0" cy="336.0" r="1.65"/><circle cx="98.0" cy="336.0" r="1.65"/><circle cx="107.0" cy="336.0" r="1.65"/><circle cx="116.1" cy="336.0" r="1.65"/><circle cx="125.1" cy="336.0" r="1.65"/><circle cx="134.1" cy="336.0" r="1.65"/><circle cx="143.1" cy="336.0" r="1.65"/><circle cx="152.1" cy="336.0" r="1.65"/><circle cx="161.1" cy="336.0" r="1.65"/><circle cx="170.1" cy="336.0" r="1.65"/><circle cx="179.2" cy="336.0" r="1.65"/><circle cx="188.2" cy="336.0" r="1.65"/><circle cx="197.2" cy="336.0" r="1.65"/><circle cx="206.2" cy="336.0" r="1.65"/><circle cx="215.2" cy="334.8" r="1.65"/><circle cx="224.2" cy="336.0" r="1.65"/><circle cx="233.2" cy="336.0" r="1.65"/><circle cx="242.3" cy="336.0" r="1.65"/><circle cx="251.3" cy="336.0" r="1.65"/><circle cx="260.3" cy="336.0" r="1.65"/><circle cx="269.3" cy="336.0" r="1.65"/><circle cx="278.3" cy="336.0" r="1.65"/><circle cx="287.3" cy="336.0" r="1.65"/><circle cx="296.3" cy="336.0" r="1.65"/><circle cx="305.4" cy="336.0" r="1.65"/><circle cx="314.4" cy="336.0" r="1.65"/><circle cx="323.4" cy="336.0" r="1.65"/><circle cx="332.4" cy="336.0" r="1.65"/><circle cx="341.4" cy="336.0" r="1.65"/><circle cx="350.4" cy="336.0" r="1.65"/><circle cx="359.4" cy="336.0" r="1.65"/><circle cx="368.5" cy="336.0" r="1.65"/><circle cx="377.5" cy="336.0" r="1.65"/><circle cx="386.5" cy="336.0" r="1.65"/><circle cx="395.5" cy="336.0" r="1.65"/><circle cx="404.5" cy="336.0" r="1.65"/><circle cx="413.5" cy="336.0" r="1.65"/><circle cx="422.5" cy="336.0" r="1.65"/><circle cx="431.5" cy="336.0" r="1.65"/><circle cx="440.6" cy="336.0" r="1.65"/><circle cx="449.6" cy="336.0" r="1.65"/><circle cx="458.6" cy="336.0" r="1.65"/><circle cx="467.6" cy="336.0" r="1.65"/><circle cx="476.6" cy="336.0" r="1.65"/><circle cx="485.6" cy="336.0" r="1.65"/><circle cx="494.6" cy="336.0" r="1.65"/><circle cx="503.7" cy="336.0" r="1.65"/><circle cx="512.7" cy="336.0" r="1.65"/><circle cx="521.7" cy="336.0" r="1.65"/><circle cx="530.7" cy="336.0" r="1.65"/><circle cx="539.7" cy="336.0" r="1.65"/><circle cx="548.7" cy="336.0" r="1.65"/><circle cx="557.7" cy="336.0" r="1.65"/><circle cx="566.8" cy="336.0" r="1.65"/><circle cx="575.8" cy="336.0" r="1.65"/><circle cx="584.8" cy="336.0" r="1.65"/><circle cx="593.8" cy="336.0" r="1.65"/><circle cx="602.8" cy="336.0" r="1.65"/><circle cx="611.8" cy="336.0" r="1.65"/><circle cx="620.8" cy="336.0" r="1.65"/><circle cx="629.9" cy="336.0" r="1.65"/><circle cx="638.9" cy="336.0" r="1.65"/><circle cx="647.9" cy="336.0" r="1.65"/><circle cx="656.9" cy="336.0" r="1.65"/><circle cx="665.9" cy="336.0" r="1.65"/><circle cx="674.9" cy="336.0" r="1.65"/><circle cx="683.9" cy="336.0" r="1.65"/><circle cx="693.0" cy="336.0" r="1.65"/><circle cx="702.0" cy="336.0" r="1.65"/><circle cx="711.0" cy="336.0" r="1.65"/><circle cx="720.0" cy="336.0" r="1.65"/></g>
<polyline points="80.0,251.0 89.0,240.5 98.0,254.3 107.0,240.2 116.1,266.0 125.1,263.2 134.1,256.3 143.1,273.5 152.1,266.4 161.1,249.0 170.1,266.7 179.2,272.5 188.2,290.3 197.2,283.4 206.2,267.4 215.2,260.8 224.2,298.6 233.2,271.4 242.3,270.3 251.3,278.9 260.3,264.0 269.3,278.1 278.3,296.7 287.3,282.6 296.3,286.3 305.4,305.3 314.4,285.3 323.4,269.6 332.4,250.6 341.4,245.7 350.4,243.9 359.4,261.0 368.5,257.4 377.5,252.4 386.5,265.0 395.5,274.7 404.5,249.6 413.5,272.9 422.5,276.0 431.5,272.0 440.6,273.1 449.6,292.4 458.6,266.7 467.6,286.3 476.6,288.1 485.6,277.1 494.6,245.7 503.7,277.1 512.7,266.3 521.7,262.6 530.7,257.3 539.7,257.4 548.7,267.1 557.7,244.6 566.8,297.4 575.8,300.6 584.8,297.4 593.8,290.3 602.8,241.0 611.8,288.1 620.8,253.4 629.9,291.4 638.9,286.3 647.9,274.3 656.9,285.7 665.9,262.6 674.9,304.3 683.9,302.0 693.0,301.0 702.0,287.1 711.0,292.4 720.0,300.3" fill="none" stroke="#6600cc" stroke-width="1.35" stroke-linejoin="round"/>
<g fill="#6600cc"><circle cx="80.0" cy="251.0" r="1.65"/><circle cx="89.0" cy="240.5" r="1.65"/><circle cx="98.0" cy="254.3" r="1.65"/><circle cx="107.0" cy="240.2" r="1.65"/><circle cx="116.1" cy="266.0" r="1.65"/><circle cx="125.1" cy="263.2" r="1.65"/><circle cx="134.1" cy="256.3" r="1.65"/><circle cx="143.1" cy="273.5" r="1.65"/><circle cx="152.1" cy="266.4" r="1.65"/><circle cx="161.1" cy="249.0" r="1.65"/><circle cx="170.1" cy="266.7" r="1.65"/><circle cx="179.2" cy="272.5" r="1.65"/><circle cx="188.2" cy="290.3" r="1.65"/><circle cx="197.2" cy="283.4" r="1.65"/><circle cx="206.2" cy="267.4" r="1.65"/><circle cx="215.2" cy="260.8" r="1.65"/><circle cx="224.2" cy="298.6" r="1.65"/><circle cx="233.2" cy="271.4" r="1.65"/><circle cx="242.3" cy="270.3" r="1.65"/><circle cx="251.3" cy="278.9" r="1.65"/><circle cx="260.3" cy="264.0" r="1.65"/><circle cx="269.3" cy="278.1" r="1.65"/><circle cx="278.3" cy="296.7" r="1.65"/><circle cx="287.3" cy="282.6" r="1.65"/><circle cx="296.3" cy="286.3" r="1.65"/><circle cx="305.4" cy="305.3" r="1.65"/><circle cx="314.4" cy="285.3" r="1.65"/><circle cx="323.4" cy="269.6" r="1.65"/><circle cx="332.4" cy="250.6" r="1.65"/><circle cx="341.4" cy="245.7" r="1.65"/><circle cx="350.4" cy="243.9" r="1.65"/><circle cx="359.4" cy="261.0" r="1.65"/><circle cx="368.5" cy="257.4" r="1.65"/><circle cx="377.5" cy="252.4" r="1.65"/><circle cx="386.5" cy="265.0" r="1.65"/><circle cx="395.5" cy="274.7" r="1.65"/><circle cx="404.5" cy="249.6" r="1.65"/><circle cx="413.5" cy="272.9" r="1.65"/><circle cx="422.5" cy="276.0" r="1.65"/><circle cx="431.5" cy="272.0" r="1.65"/><circle cx="440.6" cy="273.1" r="1.65"/><circle cx="449.6" cy="292.4" r="1.65"/><circle cx="458.6" cy="266.7" r="1.65"/><circle cx="467.6" cy="286.3" r="1.65"/><circle cx="476.6" cy="288.1" r="1.65"/><circle cx="485.6" cy="277.1" r="1.65"/><circle cx="494.6" cy="245.7" r="1.65"/><circle cx="503.7" cy="277.1" r="1.65"/><circle cx="512.7" cy="266.3" r="1.65"/><circle cx="521.7" cy="262.6" r="1.65"/><circle cx="530.7" cy="257.3" r="1.65"/><circle cx="539.7" cy="257.4" r="1.65"/><circle cx="548.7" cy="267.1" r="1.65"/><circle cx="557.7" cy="244.6" r="1.65"/><circle cx="566.8" cy="297.4" r="1.65"/><circle cx="575.8" cy="300.6" r="1.65"/><circle cx="584.8" cy="297.4" r="1.65"/><circle cx="593.8" cy="290.3" r="1.65"/><circle cx="602.8" cy="241.0" r="1.65"/><circle cx="611.8" cy="288.1" r="1.65"/><circle cx="620.8" cy="253.4" r="1.65"/><circle cx="629.9" cy="291.4" r="1.65"/><circle cx="638.9" cy="286.3" r="1.65"/><circle cx="647.9" cy="274.3" r="1.65"/><circle cx="656.9" cy="285.7" r="1.65"/><circle cx="665.9" cy="262.6" r="1.65"/><circle cx="674.9" cy="304.3" r="1.65"/><circle cx="683.9" cy="302.0" r="1.65"/><circle cx="693.0" cy="301.0" r="1.65"/><circle cx="702.0" cy="287.1" r="1.65"/><circle cx="711.0" cy="292.4" r="1.65"/><circle cx="720.0" cy="300.3" r="1.65"/></g>
<polyline points="80.0,331.0 89.0,327.7 98.0,328.6 107.0,331.3 116.1,332.4 125.1,327.1 134.1,330.3 143.1,328.6 152.1,327.1 161.1,334.6 170.1,334.3 179.2,330.8 188.2,334.3 197.2,334.3 206.2,330.0 215.2,328.6 224.2,328.6 233.2,328.9 242.3,323.1 251.3,330.0 260.3,329.1 269.3,331.0 278.3,329.6 287.3,327.1 296.3,332.0 305.4,326.3 314.4,331.0 323.4,321.4 332.4,333.1 341.4,330.0 350.4,331.4 359.4,331.7 368.5,329.6 377.5,326.0 386.5,328.1 395.5,326.7 404.5,328.9 413.5,321.0 422.5,322.4 431.5,332.4 440.6,334.3 449.6,329.1 458.6,332.4 467.6,330.3 476.6,333.1 485.6,332.4 494.6,327.7 503.7,331.4 512.7,332.9 521.7,334.3 530.7,331.0 539.7,334.6 548.7,332.9 557.7,326.7 566.8,334.9 575.8,325.3 584.8,329.1 593.8,328.6 602.8,329.1 611.8,333.1 620.8,321.4 629.9,333.4 638.9,330.6 647.9,331.0 656.9,334.3 665.9,321.0 674.9,331.4 683.9,327.1 693.0,333.1 702.0,333.1 711.0,328.9 720.0,333.1" fill="none" stroke="#cc00cc" stroke-width="1.35" stroke-linejoin="round"/>
<g fill="#cc00cc"><circle cx="80.0" cy="331.0" r="1.65"/><circle cx="89.0" cy="327.7" r="1.65"/><circle cx="98.0" cy="328.6" r="1.65"/><circle cx="107.0" cy="331.3" r="1.65"/><circle cx="116.1" cy="332.4" r="1.65"/><circle cx="125.1" cy="327.1" r="1.65"/><circle cx="134.1" cy="330.3" r="1.65"/><circle cx="143.1" cy="328.6" r="1.65"/><circle cx="152.1" cy="327.1" r="1.65"/><circle cx="161.1" cy="334.6" r="1.65"/><circle cx="170.1" cy="334.3" r="1.65"/><circle cx="179.2" cy="330.8" r="1.65"/><circle cx="188.2" cy="334.3" r="1.65"/><circle cx="197.2" cy="334.3" r="1.65"/><circle cx="206.2" cy="330.0" r="1.65"/><circle cx="215.2" cy="328.6" r="1.65"/><circle cx="224.2" cy="328.6" r="1.65"/><circle cx="233.2" cy="328.9" r="1.65"/><circle cx="242.3" cy="323.1" r="1.65"/><circle cx="251.3" cy="330.0" r="1.65"/><circle cx="260.3" cy="329.1" r="1.65"/><circle cx="269.3" cy="331.0" r="1.65"/><circle cx="278.3" cy="329.6" r="1.65"/><circle cx="287.3" cy="327.1" r="1.65"/><circle cx="296.3" cy="332.0" r="1.65"/><circle cx="305.4" cy="326.3" r="1.65"/><circle cx="314.4" cy="331.0" r="1.65"/><circle cx="323.4" cy="321.4" r="1.65"/><circle cx="332.4" cy="333.1" r="1.65"/><circle cx="341.4" cy="330.0" r="1.65"/><circle cx="350.4" cy="331.4" r="1.65"/><circle cx="359.4" cy="331.7" r="1.65"/><circle cx="368.5" cy="329.6" r="1.65"/><circle cx="377.5" cy="326.0" r="1.65"/><circle cx="386.5" cy="328.1" r="1.65"/><circle cx="395.5" cy="326.7" r="1.65"/><circle cx="404.5" cy="328.9" r="1.65"/><circle cx="413.5" cy="321.0" r="1.65"/><circle cx="422.5" cy="322.4" r="1.65"/><circle cx="431.5" cy="332.4" r="1.65"/><circle cx="440.6" cy="334.3" r="1.65"/><circle cx="449.6" cy="329.1" r="1.65"/><circle cx="458.6" cy="332.4" r="1.65"/><circle cx="467.6" cy="330.3" r="1.65"/><circle cx="476.6" cy="333.1" r="1.65"/><circle cx="485.6" cy="332.4" r="1.65"/><circle cx="494.6" cy="327.7" r="1.65"/><circle cx="503.7" cy="331.4" r="1.65"/><circle cx="512.7" cy="332.9" r="1.65"/><circle cx="521.7" cy="334.3" r="1.65"/><circle cx="530.7" cy="331.0" r="1.65"/><circle cx="539.7" cy="334.6" r="1.65"/><circle cx="548.7" cy="332.9" r="1.65"/><circle cx="557.7" cy="326.7" r="1.65"/><circle cx="566.8" cy="334.9" r="1.65"/><circle cx="575.8" cy="325.3" r="1.65"/><circle cx="584.8" cy="329.1" r="1.65"/><circle cx="593.8" cy="328.6" r="1.65"/><circle cx="602.8" cy="329.1" r="1.65"/><circle cx="611.8" cy="333.1" r="1.65"/><circle cx="620.8" cy="321.4" r="1.65"/><circle cx="629.9" cy="333.4" r="1.65"/><circle cx="638.9" cy="330.6" r="1.65"/><circle cx="647.9" cy="331.0" r="1.65"/><circle cx="656.9" cy="334.3" r="1.65"/><circle cx="665.9" cy="321.0" r="1.65"/><circle cx="674.9" cy="331.4" r="1.65"/><circle cx="683.9" cy="327.1" r="1.65"/><circle cx="693.0" cy="333.1" r="1.65"/><circle cx="702.0" cy="333.1" r="1.65"/><circle cx="711.0" cy="328.9" r="1.65"/><circle cx="720.0" cy="333.1" r="1.65"/></g>
<polyline points="80.0,290.7 89.0,239.9 98.0,265.7 107.0,254.5 116.1,260.4 125.1,247.0 134.1,243.7 143.1,279.0 152.1,270.3 161.1,288.6 170.1,256.8 179.2,273.8 188.2,280.3 197.2,252.0 206.2,270.6 215.2,265.3 224.2,270.0 233.2,241.0 242.3,269.6 251.3,267.1 260.3,257.5 269.3,241.7 278.3,275.3 287.3,263.3 296.3,290.3 305.4,286.0 314.4,279.6 323.4,268.1 332.4,292.9 341.4,259.3 350.4,269.6 359.4,268.6 368.5,242.4 377.5,273.9 386.5,231.4 395.5,268.9 404.5,262.9 413.5,269.6 422.5,264.9 431.5,275.3 440.6,277.1 449.6,266.0 458.6,264.8 467.6,260.0 476.6,266.0 485.6,254.6 494.6,288.6 503.7,250.3 512.7,281.0 521.7,268.1 530.7,258.9 539.7,247.1 548.7,235.3 557.7,240.6 566.8,251.0 575.8,259.8 584.8,274.9 593.8,266.3 602.8,258.8 611.8,263.9 620.8,270.0 629.9,286.7 638.9,274.3 647.9,278.1 656.9,268.9 665.9,278.1 674.9,274.3 683.9,292.9 693.0,281.4 702.0,298.6 711.0,288.6 720.0,264.1" fill="none" stroke="#cc0066" stroke-width="1.35" stroke-linejoin="round"/>
<g fill="#cc0066"><circle cx="80.0" cy="290.7" r="1.65"/><circle cx="89.0" cy="239.9" r="1.65"/><circle cx="98.0" cy="265.7" r="1.65"/><circle cx="107.0" cy="254.5" r="1.65"/><circle cx="116.1" cy="260.4" r="1.65"/><circle cx="125.1" cy="247.0" r="1.65"/><circle cx="134.1" cy="243.7" r="1.65"/><circle cx="143.1" cy="279.0" r="1.65"/><circle cx="152.1" cy="270.3" r="1.65"/><circle cx="161.1" cy="288.6" r="1.65"/><circle cx="170.1" cy="256.8" r="1.65"/><circle cx="179.2" cy="273.8" r="1.65"/><circle cx="188.2" cy="280.3" r="1.65"/><circle cx="197.2" cy="252.0" r="1.65"/><circle cx="206.2" cy="270.6" r="1.65"/><circle cx="215.2" cy="265.3" r="1.65"/><circle cx="224.2" cy="270.0" r="1.65"/><circle cx="233.2" cy="241.0" r="1.65"/><circle cx="242.3" cy="269.6" r="1.65"/><circle cx="251.3" cy="267.1" r="1.65"/><circle cx="260.3" cy="257.5" r="1.65"/><circle cx="269.3" cy="241.7" r="1.65"/><circle cx="278.3" cy="275.3" r="1.65"/><circle cx="287.3" cy="263.3" r="1.65"/><circle cx="296.3" cy="290.3" r="1.65"/><circle cx="305.4" cy="286.0" r="1.65"/><circle cx="314.4" cy="279.6" r="1.65"/><circle cx="323.4" cy="268.1" r="1.65"/><circle cx="332.4" cy="292.9" r="1.65"/><circle cx="341.4" cy="259.3" r="1.65"/><circle cx="350.4" cy="269.6" r="1.65"/><circle cx="359.4" cy="268.6" r="1.65"/><circle cx="368.5" cy="242.4" r="1.65"/><circle cx="377.5" cy="273.9" r="1.65"/><circle cx="386.5" cy="231.4" r="1.65"/><circle cx="395.5" cy="268.9" r="1.65"/><circle cx="404.5" cy="262.9" r="1.65"/><circle cx="413.5" cy="269.6" r="1.65"/><circle cx="422.5" cy="264.9" r="1.65"/><circle cx="431.5" cy="275.3" r="1.65"/><circle cx="440.6" cy="277.1" r="1.65"/><circle cx="449.6" cy="266.0" r="1.65"/><circle cx="458.6" cy="264.8" r="1.65"/><circle cx="467.6" cy="260.0" r="1.65"/><circle cx="476.6" cy="266.0" r="1.65"/><circle cx="485.6" cy="254.6" r="1.65"/><circle cx="494.6" cy="288.6" r="1.65"/><circle cx="503.7" cy="250.3" r="1.65"/><circle cx="512.7" cy="281.0" r="1.65"/><circle cx="521.7" cy="268.1" r="1.65"/><circle cx="530.7" cy="258.9" r="1.65"/><circle cx="539.7" cy="247.1" r="1.65"/><circle cx="548.7" cy="235.3" r="1.65"/><circle cx="557.7" cy="240.6" r="1.65"/><circle cx="566.8" cy="251.0" r="1.65"/><circle cx="575.8" cy="259.8" r="1.65"/><circle cx="584.8" cy="274.9" r="1.65"/><circle cx="593.8" cy="266.3" r="1.65"/><circle cx="602.8" cy="258.8" r="1.65"/><circle cx="611.8" cy="263.9" r="1.65"/><circle cx="620.8" cy="270.0" r="1.65"/><circle cx="629.9" cy="286.7" r="1.65"/><circle cx="638.9" cy="274.3" r="1.65"/><circle cx="647.9" cy="278.1" r="1.65"/><circle cx="656.9" cy="268.9" r="1.65"/><circle cx="665.9" cy="278.1" r="1.65"/><circle cx="674.9" cy="274.3" r="1.65"/><circle cx="683.9" cy="292.9" r="1.65"/><circle cx="693.0" cy="281.4" r="1.65"/><circle cx="702.0" cy="298.6" r="1.65"/><circle cx="711.0" cy="288.6" r="1.65"/><circle cx="720.0" cy="264.1" r="1.65"/></g>
<path d="M751.5 16H784.2" stroke="#e27070" stroke-width="2"/>
<circle cx="767.9" cy="16" r="1.9" fill="#cc0000"/>
<text x="792.3" y="20.2" fill="#b30000">us1</text>
<path d="M751.5 32H784.2" stroke="#e2a970" stroke-width="2"/>
<circle cx="767.9" cy="32" r="1.9" fill="#cc6600"/>
<text x="792.3" y="36.2" fill="#b35900">fr1</text>
<path d="M751.5 48H784.2" stroke="#e2e270" stroke-width="2"/>
<circle cx="767.9" cy="48" r="1.9" fill="#cccc00"/>
<text x="792.3" y="52.2" fill="#b3b300">fr2</text>
<path d="M751.5 64H784.2" stroke="#a9e270" stroke-width="2"/>
<circle cx="767.9" cy="64" r="1.9" fill="#66cc00"/>
<text x="792.3" y="68.2" fill="#59b300">fr3</text>
<path d="M751.5 80H784.2" stroke="#70e270" stroke-width="2"/>
<circle cx="767.9" cy="80" r="1.9" fill="#00cc00"/>
<text x="792.3" y="84.2" fill="#00b300">fr4</text>
<path d="M751.5 96H784.2" stroke="#70e2a9" stroke-width="2"/>
<circle cx="767.9" cy="96" r="1.9" fill="#00cc66"/>
<text x="792.3" y="100.2" fill="#00b359">fr5</text>
<path d="M751.5 112H784.2" stroke="#70e2e2" stroke-width="2"/>
<circle cx="767.9" cy="112" r="1.9" fill="#00cccc"/>
<text x="792.3" y="116.2" fill="#00b3b3">fr6</text>
<path d="M751.5 128H784.2" stroke="#70a9e2" stroke-width="2"/>
<circle cx="767.9" cy="128" r="1.9" fill="#0066cc"/>
<text x="792.3" y="132.2" fill="#0059b3">fr7</text>
<path d="M751.5 144H784.2" stroke="#7070e2" stroke-width="2"/>
<circle cx="767.9" cy="144" r="1.9" fill="#0000cc"/>
<text x="792.3" y="148.2" fill="#0000b3">fr11</text>
<path d="M751.5 160H784.2" stroke="#a970e2" stroke-width="2"/>
<circle cx="767.9" cy="160" r="1.9" fill="#6600cc"/>
<text x="792.3" y="164.2" fill="#5900b3">fr13</text>
<path d="M751.5 176H784.2" stroke="#e270e2" stroke-width="2"/>
<circle cx="767.9" cy="176" r="1.9" fill="#cc00cc"/>
<text x="792.3" y="180.2" fill="#b300b3">fr14</text>
<path d="M751.5 192H784.2" stroke="#e270a9" stroke-width="2"/>
<circle cx="767.9" cy="192" r="1.9" fill="#cc0066"/>
<text x="792.3" y="196.2" fill="#b30059">dk1</text>
</svg></body></html>
